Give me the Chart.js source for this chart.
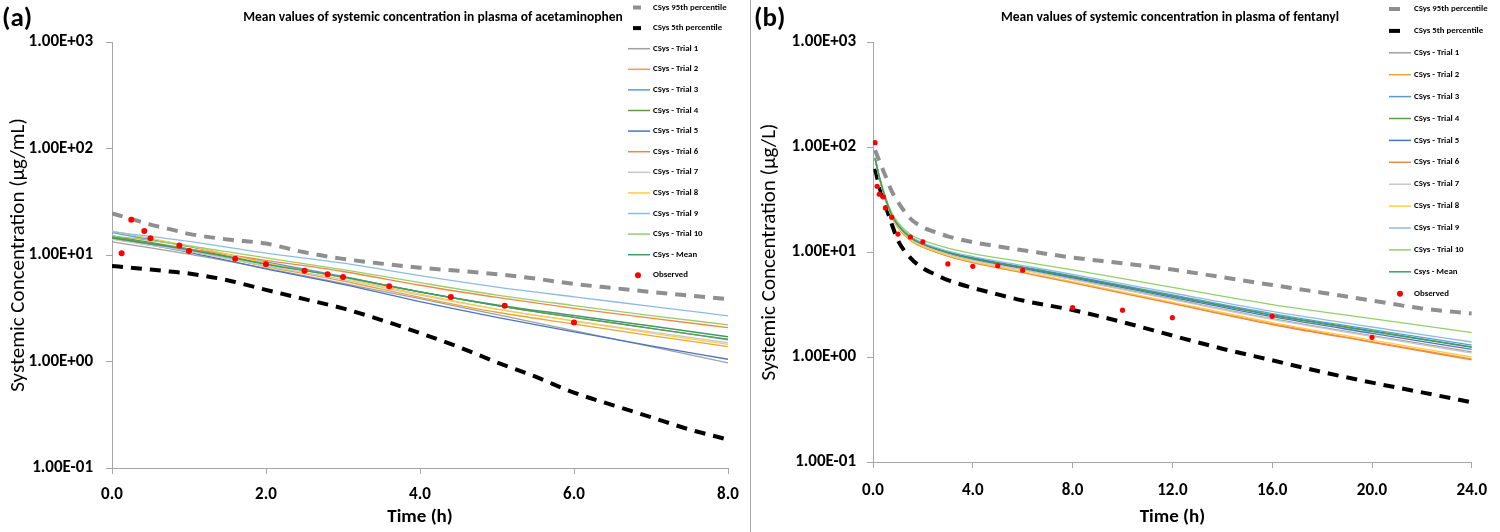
<!DOCTYPE html>
<html>
<head>
<meta charset="utf-8">
<script src="https://cdn.jsdelivr.net/npm/chart.js@4.4.1/dist/chart.umd.min.js"></script>
<style>
html, body { margin: 0; padding: 0; background: #fff; }
#wrap { width: 1500px; height: 532px; display: flex; }
#pa { width: 750px; height: 532px; }
#pb { width: 749px; height: 532px; border-left: 1px solid #a6a6a6; }
canvas { display: block; }
</style>
</head>
<body>
<div id="wrap">
  <div id="pa"><canvas id="chartA" width="750" height="532"></canvas></div>
  <div id="pb"><canvas id="chartB" width="749" height="532"></canvas></div>
</div>
<script>
var FONT = "Carlito, Lato, 'Open Sans', sans-serif";

// shared
var yTicks = [0.1, 1, 10, 100, 1000];
var trialColors = ['#a0a0a0', '#e9a53b', '#5b9bd5', '#5f9d3f', '#4a72c4', '#f28540', '#c8c8c8', '#ffcd45', '#8dbbe6', '#92d06c'];
var meanColor = '#3d9b68';

// (a) acetaminophen, ug/mL
var aPctTime = [0, 0.25, 0.5, 0.75, 1, 1.5, 2, 2.5, 3, 3.5, 4, 4.5, 5, 5.5, 6, 6.5, 7, 7.5, 8];
var aP95 = [24.6, 21.8, 19.3, 17.5, 15.8, 14.0, 12.8, 10.6, 9.2, 8.3, 7.6, 7.1, 6.6, 6.0, 5.35, 4.9, 4.5, 4.15, 3.85];
var aP5 = [7.9, 7.6, 7.3, 7.0, 6.7, 5.8, 4.7, 3.85, 3.15, 2.45, 1.85, 1.37, 0.98, 0.72, 0.51, 0.39, 0.30, 0.23, 0.185];
var aTrialTime = [0, 1, 2, 3, 4, 5, 6, 7, 8];
var aTrials = [
  [13.3, 10.2, 7.5, 5.4, 3.9, 2.75, 1.95, 1.38, 0.97],
  [14.8, 11.0, 7.8, 5.7, 4.0, 2.9, 2.25, 1.75, 1.38],
  [16.2, 12.0, 8.6, 6.3, 4.5, 3.35, 2.6, 2.05, 1.6],
  [15.0, 11.4, 8.3, 6.2, 4.5, 3.35, 2.6, 2.05, 1.62],
  [14.3, 10.6, 7.4, 5.3, 3.65, 2.6, 1.9, 1.4, 1.05],
  [14.2, 11.4, 8.9, 7.0, 5.2, 4.0, 3.15, 2.55, 2.08],
  [14.0, 10.8, 7.9, 5.9, 4.2, 3.1, 2.4, 1.9, 1.5],
  [16.8, 12.2, 8.4, 6.1, 4.3, 3.1, 2.4, 1.85, 1.45],
  [16.5, 13.4, 10.4, 8.4, 6.4, 5.0, 4.05, 3.3, 2.68],
  [15.2, 12.2, 9.4, 7.3, 5.5, 4.2, 3.35, 2.7, 2.21]
];
var aMean = [14.5, 11.2, 8.2, 6.2, 4.5, 3.4, 2.7, 2.15, 1.71];
var aObsTime = [0.125, 0.25, 0.42, 0.5, 0.875, 1, 1.6, 2, 2.5, 2.8, 3, 3.6, 4.4, 5.1, 6];
var aObs = [10.4, 21.4, 16.8, 14.4, 12.3, 10.9, 9.2, 8.2, 7.1, 6.6, 6.2, 5.1, 4.04, 3.33, 2.33];

// (b) fentanyl, ug/L
var bPctTime = [0.083, 0.25, 0.5, 0.75, 1, 1.5, 2, 2.5, 3, 4, 5, 6, 8, 10, 12, 14, 16, 18, 20, 22, 24];
var bP95 = [93, 74, 53, 38, 30, 20.8, 17.2, 15.5, 14.1, 12.4, 11.3, 10.4, 8.85, 7.8, 6.8, 5.75, 4.85, 4.1, 3.45, 2.9, 2.6];
var bP5 = [62, 42, 27.5, 18.5, 12.9, 8.8, 7.0, 6.1, 5.4, 4.55, 3.95, 3.45, 2.8, 2.15, 1.6, 1.2, 0.93, 0.72, 0.57, 0.46, 0.37];
var bTrialTime = [0.083, 0.25, 0.5, 0.75, 1, 1.5, 2, 3, 4, 6, 8, 12, 16, 20, 24];
var bTrials = [
  [77.6, 51.6, 32.0, 22.3, 17.7, 13.4, 11.6, 9.6, 8.4, 6.81, 5.52, 3.57, 2.32, 1.60, 1.12],
  [77.0, 51.0, 31.4, 21.8, 17.2, 13.0, 11.2, 9.2, 8.0, 6.42, 5.15, 3.26, 2.08, 1.40, 0.96],
  [78.2, 52.2, 32.6, 22.8, 18.1, 13.8, 12.0, 10.0, 8.83, 7.23, 5.93, 3.91, 2.59, 1.82, 1.30],
  [78.1, 52.1, 32.5, 22.6, 18.0, 13.7, 11.9, 9.92, 8.73, 7.13, 5.83, 3.83, 2.52, 1.77, 1.25],
  [77.8, 51.8, 32.2, 22.4, 17.9, 13.6, 11.8, 9.77, 8.57, 6.97, 5.68, 3.70, 2.42, 1.68, 1.18],
  [76.9, 50.9, 31.3, 21.7, 17.1, 12.9, 11.1, 9.14, 7.94, 6.35, 5.09, 3.22, 2.04, 1.38, 0.94],
  [77.5, 51.5, 31.9, 22.2, 17.6, 13.3, 11.5, 9.55, 8.34, 6.75, 5.45, 3.52, 2.28, 1.57, 1.09],
  [77.1, 51.1, 31.6, 21.9, 17.3, 13.1, 11.3, 9.3, 8.09, 6.5, 5.23, 3.33, 2.13, 1.45, 1.0],
  [78.5, 52.5, 32.9, 23.0, 18.4, 14.1, 12.2, 10.2, 9.04, 7.43, 6.12, 4.07, 2.72, 1.93, 1.39],
  [79.2, 53.4, 33.7, 23.7, 19.1, 14.7, 12.9, 10.9, 9.67, 8.08, 6.75, 4.61, 3.16, 2.32, 1.71]
];
var bMean = [78, 52, 32.4, 22.6, 18, 13.7, 11.9, 9.9, 8.7, 7.1, 5.8, 3.8, 2.5, 1.75, 1.24];
var bObsTime = [0.083, 0.167, 0.25, 0.417, 0.5, 0.75, 1, 1.5, 2, 3, 4, 5, 6, 8, 10, 12, 16, 20];
var bObs = [110, 42.3, 35.5, 33.4, 26.2, 21.4, 14.8, 13.9, 12.5, 7.7, 7.3, 7.4, 6.7, 2.95, 2.79, 2.37, 2.44, 1.54];

function pts(xs, ys) {
    return xs.map(function(x, i) { return { x: x, y: ys[i] }; });
}

function sci(v) {
    var e = Math.round(Math.log10(v));
    return '1.00E' + (e < 0 ? '-' : '+') + String(Math.abs(e)).padStart(2, '0');
}

// legend drawn over the plot, like the excel one
var sideLegend = {
    id: 'sideLegend',
    afterDatasetsDraw: function(chart, args, o) {
        var ctx = chart.ctx;
        ctx.save();
        ctx.font = 'bold ' + o.size + 'px ' + FONT;
        ctx.textBaseline = 'middle';
        chart.data.datasets.forEach(function(ds, i) {
            var y = o.y0 + i * o.step;
            if (ds.showLine === false) {
                ctx.beginPath();
                ctx.arc(o.dotX, y, 3, 0, Math.PI * 2);
                ctx.fillStyle = ds.backgroundColor;
                ctx.fill();
            } else if (ds.borderDash) {
                ctx.beginPath();
                ctx.moveTo(o.stubX0, y);
                ctx.lineTo(o.stubX1, y);
                ctx.lineWidth = 4;
                ctx.strokeStyle = ds.borderColor;
                ctx.stroke();
            } else {
                ctx.beginPath();
                ctx.moveTo(o.x0, y);
                ctx.lineTo(o.x1, y);
                ctx.lineWidth = 1.5;
                ctx.strokeStyle = ds.borderColor;
                ctx.stroke();
            }
            ctx.fillStyle = '#000';
            ctx.fillText(ds.label, o.textX, y);
        });
        ctx.restore();
    }
};

var panelText = {
    id: 'panelText',
    afterDraw: function(chart, args, o) {
        var ctx = chart.ctx;
        ctx.save();
        ctx.fillStyle = '#000';
        ctx.textBaseline = 'middle';
        ctx.font = 'bold 27px ' + FONT;
        ctx.textAlign = 'left';
        ctx.fillText(o.tag, o.tagX, 19);
        ctx.font = 'bold 13.5px ' + FONT;
        ctx.textAlign = 'center';
        ctx.fillText(o.title, o.titleX, 18);
        ctx.restore();
    }
};

function buildChart(id, p) {
    var datasets = [
        { label: 'CSys 95th percentile', data: pts(p.pctTime, p.p95), borderColor: '#8f8f8f', borderWidth: 4, borderDash: [11, 8] },
        { label: 'CSys 5th percentile', data: pts(p.pctTime, p.p5), borderColor: '#000000', borderWidth: 4, borderDash: [11, 8] }
    ];
    p.trials.forEach(function(vals, i) {
        datasets.push({ label: 'CSys - Trial ' + (i + 1), data: pts(p.trialTime, vals), borderColor: trialColors[i], borderWidth: 1.3 });
    });
    datasets.push({ label: p.meanLabel, data: pts(p.trialTime, p.mean), borderColor: meanColor, borderWidth: 1.5 });
    datasets.push({ label: 'Observed', data: pts(p.obsTime, p.obs), showLine: false, pointRadius: p.dot, backgroundColor: '#ff0000', borderWidth: 0 });
    datasets.forEach(function(ds, i) {
        ds.order = datasets.length - i;
        if (ds.showLine !== false) {
            ds.pointRadius = 0;
            ds.fill = false;
            ds.cubicInterpolationMode = 'monotone';
        }
    });

    return new Chart(document.getElementById(id), {
        type: 'line',
        data: { datasets: datasets },
        options: {
            responsive: false,
            animation: false,
            devicePixelRatio: 1,
            layout: { padding: { left: 0, right: p.padRight, top: 42, bottom: 0 } },
            plugins: {
                legend: { display: false },
                tooltip: { enabled: false },
                sideLegend: p.legend,
                panelText: { tag: p.tag, tagX: p.tagX, title: p.title, titleX: p.titleX }
            },
            scales: {
                x: {
                    type: 'linear',
                    min: 0,
                    max: p.xMax,
                    ticks: {
                        stepSize: p.xStep,
                        color: '#000',
                        padding: p.xTickPad,
                        maxRotation: 0,
                        font: { family: FONT, size: 17, weight: 'bold' },
                        callback: function(v) { return v.toFixed(1); }
                    },
                    grid: { drawOnChartArea: false, drawTicks: true, tickLength: 6, color: '#a6a6a6' },
                    border: { color: '#a6a6a6', width: 1 },
                    title: {
                        display: true,
                        text: 'Time (h)',
                        color: '#000',
                        font: { family: FONT, size: 19, weight: 'bold' },
                        padding: { top: 0, bottom: 3 }
                    },
                    afterFit: function(s) { s.height = p.xHeight; }
                },
                y: {
                    type: 'logarithmic',
                    min: 0.1,
                    max: 1000,
                    afterBuildTicks: function(s) { s.ticks = yTicks.map(function(v) { return { value: v }; }); },
                    ticks: {
                        color: '#000',
                        padding: p.yTickPad,
                        font: { family: FONT, size: 17, weight: 'bold' },
                        callback: function(v) { return sci(v); }
                    },
                    grid: { drawOnChartArea: false, drawTicks: true, tickLength: 6, color: '#a6a6a6' },
                    border: { color: '#a6a6a6', width: 1 },
                    title: {
                        display: true,
                        text: p.yTitle,
                        color: '#000',
                        font: { family: FONT, size: 21, weight: 'normal' },
                        padding: { top: 6, bottom: 0 }
                    },
                    afterFit: function(s) { s.width = p.yWidth; }
                }
            }
        },
        plugins: [sideLegend, panelText]
    });
}

buildChart('chartA', {
    pctTime: aPctTime, p95: aP95, p5: aP5,
    trialTime: aTrialTime, trials: aTrials, mean: aMean, meanLabel: 'CSys - Mean',
    obsTime: aObsTime, obs: aObs, dot: 3,
    xMax: 8, xStep: 2, xTickPad: 11, xHeight: 64,
    yWidth: 112, yTickPad: 13, padRight: 22,
    yTitle: 'Systemic Concentration (\u00b5g/mL)',
    tag: '(a)', tagX: 2,
    title: 'Mean values of systemic concentration in plasma of acetaminophen', titleX: 433,
    legend: { size: 8.8, y0: 7.5, step: 20.6, x0: 628, x1: 650, stubX0: 633, stubX1: 641, dotX: 638, textX: 653 }
});

buildChart('chartB', {
    pctTime: bPctTime, p95: bP95, p5: bP5,
    trialTime: bTrialTime, trials: bTrials, mean: bMean, meanLabel: 'Csys - Mean',
    obsTime: bObsTime, obs: bObs, dot: 2.6,
    xMax: 24, xStep: 4, xTickPad: 13, xHeight: 70,
    yWidth: 122, yTickPad: 11, padRight: 19,
    yTitle: 'Systemic Concentration (\u00b5g/L)',
    tag: '(b)', tagX: 3,
    title: 'Mean values of systemic concentration in plasma of fentanyl', titleX: 419,
    legend: { size: 8.8, y0: 9, step: 21.9, x0: 638, x1: 660, stubX0: 638, stubX1: 649, dotX: 649, textX: 663 }
});
</script>
</body>
</html>
